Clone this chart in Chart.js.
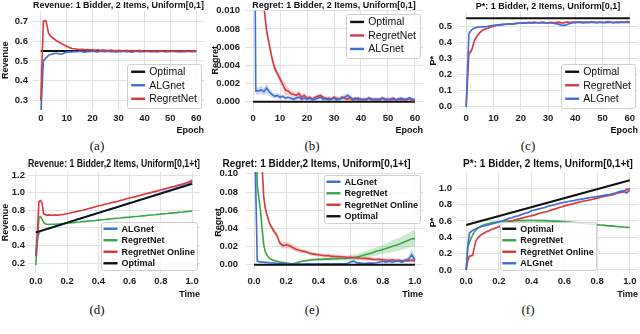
<!DOCTYPE html>
<html>
<head>
<meta charset="UTF-8">
<script src="https://cdn.jsdelivr.net/npm/chart.js"></script>
<title>ALGnet vs RegretNet</title>
<style>
  body { margin: 0; background: #fff; }
  #wrapper { position: relative; width: 640px; height: 334px; overflow: hidden; }
  canvas { position: absolute; }
  .cap { position: absolute; font: 13px "Liberation Serif", "DejaVu Serif", serif; color: #111; transform: translate(-50%, -50%); }
</style>
</head>
<body>
<div id="wrapper">
  <canvas id="revStatic" width="210" height="136" style="left:0;top:0"></canvas>
  <canvas id="regStatic" width="215" height="136" style="left:210px;top:0"></canvas>
  <canvas id="pStatic" width="215" height="136" style="left:425px;top:0"></canvas>
  <canvas id="revOnline" width="210" height="143" style="left:0;top:157px"></canvas>
  <canvas id="regOnline" width="215" height="143" style="left:210px;top:157px"></canvas>
  <canvas id="pOnline" width="215" height="143" style="left:425px;top:157px"></canvas>
  <div class="cap" style="left:97px;top:146px">(a)</div>
  <div class="cap" style="left:312px;top:146px">(b)</div>
  <div class="cap" style="left:528px;top:146px">(c)</div>
  <div class="cap" style="left:97px;top:310px">(d)</div>
  <div class="cap" style="left:312px;top:310px">(e)</div>
  <div class="cap" style="left:528px;top:310px">(f)</div>
</div>

<script>
// ---- top row: Uniform[0,1], by epoch ----
const epochs = [0,1,2,3,4,5,6,7,8,9,10,11,12,13,14,15,16,17,18,19,20,21,22,23,24,25,26,27,28,29,30,
  31,32,33,34,35,36,37,38,39,40,41,42,43,44,45,46,47,48,49,50,51,52,53,54,55,56,57,58,59,60];
const epochTicks = [0,10,20,30,40,50,60];
const optEpochs = [0,60];

const revALG = [0.22,0.50,0.515,0.528,0.534,0.537,0.539,0.536,0.534,0.540,
  0.544,0.546,0.545,0.548,0.546,0.549,0.547,0.544,0.548,0.546,
  0.549,0.547,0.545,0.549,0.548,0.546,0.549,0.547,0.548,0.545,
  0.548,0.547,0.549,0.546,0.548,0.544,0.547,0.549,0.546,0.548,
  0.547,0.549,0.546,0.548,0.547,0.545,0.548,0.549,0.546,0.548,
  0.547,0.549,0.546,0.548,0.545,0.548,0.547,0.549,0.546,0.548,0.547];
const revALGSpread = [0,0.010,0.006,0.004,0.003,0.003,0.003,0.003,0.003,0.003,
  0.003,0.002,0.002,0.003,0.002,0.002,0.003,0.002,0.002,0.002,
  0.003,0.002,0.002,0.002,0.003,0.002,0.002,0.003,0.002,0.002,
  0.002,0.003,0.002,0.002,0.003,0.002,0.002,0.002,0.003,0.002,
  0.002,0.003,0.002,0.002,0.002,0.003,0.002,0.002,0.003,0.002,
  0.002,0.002,0.003,0.002,0.002,0.003,0.002,0.002,0.002,0.003,0.002];
const revRegret = [0.30,0.700,0.702,0.640,0.622,0.612,0.602,0.594,0.588,0.580,
  0.574,0.568,0.563,0.561,0.559,0.557,0.558,0.556,0.557,0.555,
  0.556,0.554,0.556,0.553,0.555,0.554,0.552,0.555,0.553,0.551,
  0.554,0.552,0.550,0.553,0.551,0.549,0.552,0.550,0.553,0.551,
  0.549,0.552,0.550,0.548,0.551,0.549,0.552,0.550,0.548,0.551,
  0.549,0.552,0.550,0.548,0.551,0.549,0.551,0.548,0.550,0.552,0.549];
const revRegretSpread = [0,0.008,0.008,0.006,0.006,0.006,0.005,0.005,0.005,0.004,
  0.004,0.004,0.003,0.003,0.003,0.003,0.003,0.003,0.003,0.003,
  0.003,0.003,0.003,0.003,0.003,0.003,0.003,0.003,0.003,0.003,
  0.003,0.003,0.003,0.003,0.003,0.003,0.003,0.003,0.003,0.003,
  0.003,0.003,0.003,0.003,0.003,0.003,0.003,0.003,0.003,0.003,
  0.003,0.003,0.003,0.003,0.003,0.003,0.003,0.003,0.003,0.003,0.003];
const revOptimal = [0.55,0.55];

const regALG = [0.050,0.0012,0.0012,0.0013,0.0011,0.0015,0.0011,0.0008,0.0006,0.0007,
  0.0005,0.0006,0.0004,0.0005,0.0004,0.0003,0.0004,0.0005,0.0003,0.0004,
  0.0003,0.0004,0.0002,0.0003,0.0004,0.0005,0.0003,0.0004,0.0002,0.0003,
  0.0004,0.0002,0.0003,0.0004,0.0005,0.0007,0.0005,0.0003,0.0004,0.0002,
  0.0003,0.0002,0.0003,0.0004,0.0002,0.0003,0.0002,0.0003,0.0004,0.0002,
  0.0003,0.0002,0.0003,0.0002,0.0003,0.0004,0.0002,0.0003,0.0004,0.0003,0.0001];
const regALGSpread = [0,0.0004,0.0004,0.0005,0.0004,0.0005,0.0004,0.0003,0.0003,0.0003,
  0.0003,0.0002,0.0002,0.0002,0.0002,0.0002,0.0002,0.0002,0.0002,0.0002,
  0.0002,0.0002,0.0002,0.0002,0.0002,0.0002,0.0002,0.0002,0.0002,0.0002,
  0.0002,0.0002,0.0002,0.0002,0.0003,0.0003,0.0003,0.0002,0.0002,0.0002,
  0.0002,0.0002,0.0002,0.0002,0.0002,0.0002,0.0002,0.0002,0.0002,0.0002,
  0.0002,0.0002,0.0002,0.0002,0.0002,0.0002,0.0002,0.0002,0.0002,0.0002,0.0002];
const regRegret = [0.060,0.045,0.030,0.018,0.0105,0.0078,0.0063,0.0048,0.0037,0.0031,
  0.0025,0.0019,0.0013,0.0012,0.0009,0.0008,0.0007,0.0009,0.0005,0.0007,
  0.0004,0.0005,0.0003,0.0005,0.0006,0.0007,0.0005,0.0003,0.0004,0.0003,
  0.0005,0.0004,0.0003,0.0005,0.0004,0.0003,0.0004,0.0002,0.0003,0.0004,
  0.0002,0.0003,0.0002,0.0004,0.0003,0.0002,0.0003,0.0002,0.0004,0.0003,
  0.0002,0.0003,0.0004,0.0002,0.0003,0.0002,0.0003,0.0002,0.0004,0.0001,0.0003];
const regRegretSpread = [0,0.002,0.002,0.001,0.0008,0.0006,0.0005,0.0005,0.0004,0.0004,
  0.0004,0.0005,0.0007,0.0004,0.0003,0.0003,0.0003,0.0004,0.0003,0.0003,
  0.0002,0.0002,0.0002,0.0002,0.0002,0.0002,0.0002,0.0002,0.0002,0.0002,
  0.0002,0.0002,0.0002,0.0002,0.0002,0.0002,0.0002,0.0002,0.0002,0.0002,
  0.0002,0.0002,0.0002,0.0002,0.0002,0.0002,0.0002,0.0002,0.0002,0.0002,
  0.0002,0.0002,0.0002,0.0002,0.0002,0.0002,0.0002,0.0002,0.0002,0.0002,0.0002];
const regOptimal = [0,0];

const pALG = [0.0,0.455,0.478,0.488,0.493,0.495,0.496,0.497,0.499,0.502,
  0.505,0.507,0.508,0.510,0.511,0.512,0.513,0.515,0.516,0.517,
  0.518,0.519,0.520,0.520,0.521,0.520,0.521,0.522,0.521,0.520,
  0.521,0.520,0.518,0.516,0.512,0.506,0.505,0.510,0.517,0.522,
  0.525,0.524,0.525,0.524,0.523,0.524,0.525,0.524,0.523,0.524,
  0.523,0.522,0.523,0.524,0.523,0.522,0.523,0.524,0.523,0.525,0.521];
const pALGSpread = [0,0.010,0.006,0.005,0.004,0.004,0.004,0.004,0.004,0.004,
  0.004,0.004,0.004,0.004,0.004,0.004,0.004,0.004,0.004,0.004,
  0.004,0.004,0.004,0.004,0.004,0.004,0.004,0.004,0.004,0.004,
  0.004,0.005,0.006,0.008,0.010,0.010,0.009,0.007,0.005,0.004,
  0.004,0.004,0.004,0.004,0.004,0.004,0.004,0.004,0.004,0.004,
  0.004,0.004,0.004,0.004,0.004,0.004,0.004,0.004,0.004,0.004,0.005];
const pRegret = [0.0,0.330,0.350,0.410,0.440,0.460,0.475,0.482,0.488,0.495,
  0.500,0.505,0.508,0.510,0.512,0.513,0.515,0.512,0.517,0.520,
  0.518,0.522,0.520,0.524,0.521,0.526,0.522,0.520,0.525,0.522,
  0.520,0.524,0.521,0.523,0.525,0.520,0.522,0.526,0.523,0.525,
  0.522,0.526,0.524,0.521,0.525,0.523,0.527,0.524,0.522,0.526,
  0.523,0.525,0.528,0.524,0.522,0.526,0.524,0.527,0.525,0.529,0.526];
const pRegretSpread = [0,0.020,0.015,0.012,0.010,0.008,0.007,0.007,0.006,0.006,
  0.006,0.006,0.006,0.006,0.006,0.006,0.006,0.006,0.006,0.006,
  0.006,0.006,0.006,0.006,0.006,0.006,0.006,0.006,0.006,0.006,
  0.006,0.006,0.006,0.006,0.006,0.006,0.006,0.006,0.006,0.006,
  0.006,0.006,0.006,0.006,0.006,0.006,0.006,0.006,0.006,0.006,
  0.006,0.006,0.006,0.006,0.006,0.006,0.006,0.006,0.006,0.006,0.006];
const pOptimal = [0.55,0.55];

// ---- bottom row: Uniform[0,1+t], by time ----
const times = [0,0.01,0.02,0.03,0.04,0.05,0.06,0.07,0.08,0.09,0.10,
  0.12,0.14,0.16,0.18,0.20,0.22,0.24,0.26,0.28,0.30,0.32,0.34,0.36,0.38,0.40,0.42,0.44,0.46,0.48,0.50,
  0.52,0.54,0.56,0.58,0.60,0.62,0.64,0.66,0.68,0.70,0.72,0.74,0.76,0.78,0.80,0.82,0.84,0.86,0.88,0.90,
  0.92,0.94,0.96,0.98,1.00];
const timeTicks = [0,0.2,0.4,0.6,0.8,1.0];
const optTimes = [0,1];

const revOnALG = [0.30,0.48,0.545,0.56,0.57,0.575,0.58,0.585,0.59,0.595,0.60,
  0.612,0.622,0.635,0.645,0.66,0.673,0.683,0.695,0.706,0.718,0.728,0.74,0.75,0.762,0.772,0.783,0.795,0.805,0.818,0.827,
  0.838,0.85,0.862,0.873,0.884,0.895,0.905,0.918,0.928,0.94,0.952,0.96,0.975,0.985,0.995,1.01,1.02,1.03,1.042,1.055,
  1.065,1.078,1.09,1.10,1.125];
const revOnRegret = [0.18,0.45,0.72,0.73,0.70,0.665,0.648,0.642,0.640,0.641,0.642,
  0.643,0.645,0.647,0.650,0.654,0.658,0.661,0.665,0.668,0.672,0.675,0.679,0.682,0.685,0.689,0.693,0.696,0.700,0.703,0.707,
  0.710,0.713,0.717,0.720,0.723,0.727,0.730,0.733,0.737,0.740,0.744,0.747,0.750,0.754,0.757,0.761,0.764,0.768,0.771,0.774,
  0.778,0.781,0.785,0.789,0.792];
const revOnOnline = [0.28,0.55,0.90,0.91,0.88,0.76,0.752,0.745,0.748,0.746,0.744,
  0.747,0.745,0.750,0.755,0.762,0.770,0.778,0.785,0.795,0.800,0.810,0.820,0.830,0.840,0.850,0.858,0.868,0.875,0.885,0.893,
  0.900,0.912,0.920,0.930,0.940,0.948,0.955,0.965,0.975,0.985,0.995,1.003,1.012,1.020,1.030,1.040,1.050,1.060,1.068,1.078,
  1.088,1.098,1.110,1.120,1.140];
const revOnOnlineSpread = [0,0.02,0.01,0.01,0.01,0.01,0.006,0.005,0.005,0.005,0.005,
  0.005,0.005,0.005,0.005,0.005,0.005,0.005,0.005,0.005,0.005,0.005,0.005,0.005,0.005,0.005,0.005,0.005,0.005,0.005,0.005,
  0.005,0.005,0.005,0.005,0.006,0.006,0.006,0.006,0.006,0.007,0.007,0.007,0.007,0.008,0.008,0.008,0.009,0.009,0.010,0.010,
  0.011,0.012,0.013,0.015,0.016];
const revOnOptimal = [0.55,1.10];

const regOnALG = [0.25,0.09,0.004,0.0035,0.0032,0.003,0.0028,0.0027,0.0025,0.0024,0.0022,
  0.002,0.0017,0.0015,0.0012,0.001,0.0008,0.0008,0.0007,0.0008,0.0009,0.0008,0.001,0.0009,0.0008,0.001,0.0009,0.0011,0.001,0.0009,0.0011,
  0.001,0.0012,0.0011,0.0013,0.003,0.004,0.002,0.0018,0.0015,0.0017,0.002,0.0018,0.0022,0.003,0.004,0.003,0.004,0.003,0.004,0.004,
  0.003,0.005,0.006,0.011,0.005];
const regOnALGSpread = [0,0.002,0.001,0.001,0.001,0.001,0.001,0.001,0.001,0.001,0.001,
  0.0008,0.0008,0.0008,0.0008,0.0008,0.0008,0.0008,0.0008,0.0008,0.0008,0.0008,0.0008,0.0008,0.0008,0.0008,0.0008,0.0008,0.0008,0.0008,0.0008,
  0.0008,0.0008,0.0008,0.001,0.0015,0.0015,0.001,0.001,0.001,0.001,0.001,0.001,0.001,0.0015,0.0015,0.0015,0.0015,0.0015,0.0015,0.0015,
  0.0015,0.002,0.003,0.007,0.002];
const regOnRegret = [0.30,0.20,0.088,0.073,0.060,0.040,0.022,0.014,0.011,0.008,0.0065,
  0.005,0.004,0.003,0.0025,0.002,0.0015,0.0012,0.002,0.003,0.004,0.0045,0.005,0.0055,0.0058,0.006,0.006,0.0062,0.0063,0.0065,0.0066,
  0.0068,0.007,0.007,0.0072,0.0075,0.008,0.0085,0.0095,0.0105,0.0115,0.0125,0.0135,0.0148,0.0158,0.0168,0.018,0.019,0.0205,0.0215,0.0225,
  0.024,0.0255,0.027,0.0285,0.029];
const regOnRegretSpread = [0,0.004,0.003,0.003,0.003,0.002,0.002,0.001,0.001,0.001,0.001,
  0.001,0.001,0.001,0.001,0.001,0.001,0.001,0.001,0.001,0.001,0.0012,0.0013,0.0014,0.0015,0.0016,0.0017,0.0018,0.0019,0.002,0.002,
  0.0022,0.0024,0.0026,0.0028,0.003,0.0032,0.0034,0.0036,0.0038,0.004,0.0042,0.0044,0.0046,0.0048,0.005,0.0055,0.006,0.0065,0.0068,0.007,
  0.0074,0.0078,0.0082,0.0086,0.009];
const regOnOnline = [0.35,0.30,0.25,0.20,0.15,0.11,0.075,0.062,0.055,0.049,0.044,
  0.038,0.033,0.024,0.021,0.022,0.021,0.019,0.017,0.016,0.015,0.0145,0.013,0.012,0.0115,0.011,0.0105,0.010,0.0102,0.0095,0.0092,
  0.009,0.0088,0.0085,0.008,0.0082,0.0078,0.0075,0.0072,0.007,0.0068,0.0065,0.006,0.0058,0.006,0.0055,0.0052,0.005,0.0055,0.0048,0.005,
  0.0045,0.0048,0.0045,0.005,0.0045];
const regOnOnlineSpread = [0,0.004,0.004,0.004,0.004,0.004,0.004,0.003,0.003,0.003,0.003,
  0.003,0.003,0.003,0.0035,0.0035,0.003,0.003,0.0025,0.0025,0.002,0.002,0.002,0.002,0.002,0.002,0.002,0.002,0.002,0.002,0.002,
  0.002,0.002,0.002,0.002,0.002,0.002,0.002,0.002,0.002,0.002,0.002,0.002,0.002,0.002,0.002,0.002,0.002,0.002,0.002,0.002,
  0.002,0.002,0.002,0.002,0.002];
const regOnOptimal = [0,0];

const pOnALG = [0.0,0.30,0.45,0.47,0.485,0.495,0.505,0.515,0.52,0.53,0.535,
  0.545,0.555,0.565,0.575,0.59,0.60,0.615,0.63,0.64,0.655,0.665,0.68,0.695,0.705,0.725,0.735,0.745,0.755,0.765,0.78,
  0.79,0.80,0.81,0.82,0.83,0.835,0.845,0.85,0.86,0.865,0.872,0.88,0.887,0.893,0.90,0.905,0.913,0.92,0.925,0.935,
  0.945,0.96,0.968,0.945,0.978];
const pOnALGSpread = [0,0.02,0.01,0.01,0.01,0.01,0.01,0.01,0.01,0.01,0.01,
  0.01,0.01,0.01,0.01,0.01,0.01,0.01,0.01,0.01,0.01,0.01,0.01,0.01,0.01,0.01,0.01,0.01,0.01,0.01,0.01,
  0.01,0.01,0.01,0.01,0.01,0.01,0.01,0.01,0.01,0.01,0.01,0.01,0.01,0.012,0.012,0.012,0.012,0.014,0.014,0.015,
  0.016,0.018,0.02,0.025,0.02];
const pOnRegret = [0.0,0.28,0.34,0.39,0.43,0.47,0.49,0.51,0.525,0.535,0.545,
  0.56,0.57,0.58,0.585,0.59,0.595,0.598,0.60,0.602,0.603,0.604,0.605,0.605,0.606,0.606,0.606,0.605,0.605,0.604,0.602,
  0.60,0.598,0.596,0.594,0.59,0.587,0.583,0.58,0.577,0.573,0.57,0.566,0.562,0.558,0.554,0.55,0.547,0.543,0.54,0.537,
  0.533,0.53,0.526,0.523,0.52];
const pOnRegretSpread = [0,0.02,0.015,0.012,0.01,0.01,0.01,0.01,0.01,0.01,0.01,
  0.01,0.01,0.01,0.01,0.01,0.01,0.01,0.01,0.011,0.011,0.012,0.012,0.012,0.013,0.013,0.013,0.013,0.014,0.014,0.014,
  0.014,0.014,0.014,0.014,0.014,0.014,0.014,0.013,0.013,0.013,0.013,0.013,0.013,0.012,0.012,0.012,0.012,0.012,0.012,0.012,
  0.012,0.012,0.012,0.012,0.012];
const pOnOnline = [0.0,0.12,0.17,0.175,0.18,0.28,0.36,0.39,0.41,0.43,0.44,
  0.465,0.48,0.50,0.515,0.53,0.55,0.575,0.59,0.60,0.615,0.625,0.635,0.645,0.655,0.665,0.675,0.69,0.70,0.71,0.72,
  0.735,0.745,0.76,0.77,0.785,0.795,0.805,0.815,0.825,0.835,0.845,0.85,0.86,0.87,0.88,0.89,0.90,0.91,0.915,0.925,
  0.94,0.95,0.955,0.985,0.995];
const pOnOnlineSpread = [0,0.02,0.02,0.02,0.02,0.02,0.015,0.012,0.01,0.01,0.01,
  0.01,0.01,0.01,0.01,0.01,0.01,0.01,0.01,0.01,0.01,0.01,0.01,0.01,0.01,0.01,0.01,0.01,0.01,0.01,0.01,
  0.01,0.01,0.01,0.01,0.01,0.01,0.01,0.01,0.01,0.01,0.01,0.01,0.01,0.01,0.012,0.012,0.012,0.012,0.014,0.014,
  0.015,0.016,0.018,0.022,0.02];
const pOnOptimal = [0.55,1.10];

// ---- styling ----
Chart.defaults.font.family = '"Liberation Sans", Arial, sans-serif';
Chart.defaults.color = '#222';
const GRID = '#e2e2e2';
const COL = { blue: '#3f6fd6', red: '#d93a3d', green: '#3aa64c', black: '#111111' };
const FADE = { blue: 'rgba(63,111,214,0.25)', red: 'rgba(217,58,61,0.25)', green: 'rgba(58,166,76,0.25)' };

function pts(xs, ys) { return xs.map((x, i) => ({ x: x, y: ys[i] })); }

function line(label, xs, ys, color, order, width) {
  return { label: label, data: pts(xs, ys), borderColor: color, backgroundColor: color,
    borderWidth: width || 1.6, pointRadius: 0, tension: 0, fill: false, order: order };
}

// shaded spread: upper edge, then lower edge filled back up to it
function band(xs, ys, spread, color) {
  return [
    { data: pts(xs, ys.map((v, i) => v + spread[i])), borderWidth: 0, borderColor: 'transparent',
      pointRadius: 0, fill: false, order: 20 },
    { data: pts(xs, ys.map((v, i) => v - spread[i])), borderWidth: 0, borderColor: 'transparent',
      pointRadius: 0, fill: '-1', backgroundColor: color, order: 20 }
  ];
}

// legend drawn inside the plot, like matplotlib's loc=...
const insideLegend = {
  id: 'insideLegend',
  afterDatasetsDraw(chart, args, o) {
    if (!o || !o.loc) return;
    const ctx = chart.ctx, area = chart.chartArea;
    const items = chart.data.datasets.filter(d => d.label);
    ctx.save();
    ctx.font = o.fontCss;
    const tw = Math.max(...items.map(d => ctx.measureText(d.label).width));
    const w = o.pad * 2 + o.lineLen + o.gap + tw;
    const h = o.padY * 2 + items.length * o.rowH;
    let x = area.right - o.margin - w;
    if (o.loc.indexOf('center') >= 0) x = (area.left + area.right - w) / 2;
    const y = o.loc.indexOf('upper') === 0 ? area.top + o.margin : area.bottom - o.margin - h;
    ctx.fillStyle = 'rgba(255,255,255,0.85)';
    ctx.strokeStyle = '#d0d0d0';
    ctx.lineWidth = 1;
    ctx.beginPath();
    ctx.roundRect(Math.round(x) + 0.5, Math.round(y) + 0.5, Math.round(w), Math.round(h), 2);
    ctx.fill();
    ctx.stroke();
    ctx.textBaseline = 'middle';
    items.forEach((d, i) => {
      const cy = y + o.padY + o.rowH * (i + 0.5);
      ctx.strokeStyle = d.borderColor;
      ctx.lineWidth = o.lineW;
      ctx.beginPath();
      ctx.moveTo(x + o.pad, cy);
      ctx.lineTo(x + o.pad + o.lineLen, cy);
      ctx.stroke();
      ctx.fillStyle = '#111';
      ctx.fillText(d.label, x + o.pad + o.lineLen + o.gap, cy + 0.5);
    });
    ctx.restore();
  }
};

function axes(a) {
  const tickFont = { size: 9.5, weight: 'bold' };
  const titleFont = { size: 9, weight: 'bold', lineHeight: 1.2 };
  return {
    x: {
      type: 'linear', min: a.xMin, max: a.xMax,
      afterBuildTicks: s => { s.ticks = a.xTicks.map(v => ({ value: v })); },
      afterFit: s => { s.height = a.xH; },
      grid: { color: GRID, drawTicks: false },
      border: { display: false },
      ticks: { font: tickFont, padding: 2.5, maxRotation: 0, autoSkip: false, color: '#222',
        callback: v => v.toFixed(a.xDec) },
      title: { display: true, text: a.xTitle, align: 'end', font: titleFont, color: '#111',
        padding: { top: a.xTitlePad, bottom: 0 } }
    },
    y: {
      type: 'linear', min: a.yMin, max: a.yMax,
      afterBuildTicks: s => { s.ticks = a.yTicks.map(v => ({ value: v })); },
      afterFit: s => { s.width = a.yW; },
      grid: { color: GRID, drawTicks: false },
      border: { display: false },
      ticks: { font: tickFont, padding: a.yPad, autoSkip: false, color: '#222',
        callback: v => v.toFixed(a.yDec) },
      title: { display: true, text: a.yTitle, font: titleFont, color: '#111',
        padding: { top: a.yTitlePad, bottom: 0 } }
    }
  };
}

function panel(id, title, datasets, ax, legend, padRight, head) {
  return new Chart(document.getElementById(id), {
    type: 'line',
    data: { datasets: datasets },
    options: {
      responsive: false,
      animation: false,
      layout: { padding: { left: 0, right: padRight, top: 0, bottom: 0 } },
      scales: axes(ax),
      plugins: {
        legend: { display: false },
        tooltip: { enabled: false },
        title: { display: true, text: title, fullSize: !!head.full, color: '#111',
          font: { size: head.size, weight: 'bold', lineHeight: 1.1 }, padding: head.pad },
        insideLegend: legend
      }
    },
    plugins: [insideLegend]
  });
}

const topLegend = { fontCss: '10.5px "Liberation Sans"', rowH: 13.5, padY: 1.5, pad: 4, lineLen: 14, gap: 4, margin: 3, lineW: 2.4 };
const botLegend = { fontCss: 'bold 9px "Liberation Sans"', rowH: 11.5, padY: 1, pad: 2, lineLen: 14, gap: 4, margin: 3, lineW: 2.4 };
const topHead = { size: 9, pad: { top: 0, bottom: 0 } };
const botHead = { size: 10, pad: { top: 1.5, bottom: 2.5 } };

// (a)
panel('revStatic', 'Revenue: 1 Bidder, 2 Items, Uniform[0,1]', [
  line('Optimal', optEpochs, revOptimal, COL.black, 5, 2),
  line('ALGnet', epochs, revALG, COL.blue, 2),
  line('RegretNet', epochs, revRegret, COL.red, 1),
  ...band(epochs, revALG, revALGSpread, FADE.blue),
  ...band(epochs, revRegret, revRegretSpread, FADE.red)
], { xMin: -3, xMax: 63, xTicks: epochTicks, xDec: 0, xTitle: 'Epoch', xH: 26, xTitlePad: 1.5,
     yMin: 0.253, yMax: 0.753, yTicks: [0.3, 0.4, 0.5, 0.6, 0.7], yDec: 1, yTitle: 'Revenue', yW: 33, yPad: 5, yTitlePad: 0 },
   Object.assign({ loc: 'lower right' }, topLegend), 6, topHead);

// (b)
panel('regStatic', 'Regret: 1 Bidder, 2 Items, Uniform[0,1]', [
  line('Optimal', optEpochs, regOptimal, COL.black, 5, 2),
  line('RegretNet', epochs, regRegret, COL.red, 2),
  line('ALGnet', epochs, regALG, COL.blue, 1),
  ...band(epochs, regRegret, regRegretSpread, FADE.red),
  ...band(epochs, regALG, regALGSpread, FADE.blue)
], { xMin: -3, xMax: 63, xTicks: epochTicks, xDec: 0, xTitle: 'Epoch', xH: 26, xTitlePad: 1.5,
     yMin: -0.0009, yMax: 0.0100, yTicks: [0, 0.002, 0.004, 0.006, 0.008, 0.010], yDec: 3, yTitle: 'Regret', yW: 35, yPad: 5, yTitlePad: 0 },
   Object.assign({ loc: 'upper right' }, topLegend), 2, topHead);

// (c)
panel('pStatic', 'P*: 1 Bidder, 2 Items, Uniform[0,1]', [
  line('Optimal', optEpochs, pOptimal, COL.black, 5, 2),
  line('RegretNet', epochs, pRegret, COL.red, 2),
  line('ALGnet', epochs, pALG, COL.blue, 1),
  ...band(epochs, pRegret, pRegretSpread, FADE.red),
  ...band(epochs, pALG, pALGSpread, FADE.blue)
], { xMin: -3, xMax: 63, xTicks: epochTicks, xDec: 0, xTitle: 'Epoch', xH: 26, xTitlePad: 1.5,
     yMin: -0.02, yMax: 0.59, yTicks: [0, 0.1, 0.2, 0.3, 0.4, 0.5], yDec: 1, yTitle: 'P*', yW: 33, yPad: 6, yTitlePad: 3 },
   Object.assign({ loc: 'lower right' }, topLegend), 2, topHead);

// (d)
panel('revOnline', 'Revenue: 1 Bidder,2 Items, Uniform[0,1+t]', [
  line('ALGnet', times, revOnALG, COL.blue, 3),
  line('RegretNet', times, revOnRegret, COL.green, 4),
  line('RegretNet Online', times, revOnOnline, COL.red, 2),
  line('Optimal', optTimes, revOnOptimal, COL.black, 1, 2),
  ...band(times, revOnOnline, revOnOnlineSpread, FADE.red)
], { xMin: -0.05, xMax: 1.05, xTicks: timeTicks, xDec: 1, xTitle: 'Time', xH: 27, xTitlePad: 1.6,
     yMin: 0.09, yMax: 1.234, yTicks: [0.2, 0.4, 0.6, 0.8, 1.0, 1.2], yDec: 1, yTitle: 'Revenue', yW: 28, yPad: 3, yTitlePad: 0 },
   Object.assign({ loc: 'lower right' }, botLegend), 10, botHead);

// (e)
panel('regOnline', 'Regret: 1 Bidder,2 Items, Uniform[0,1+t]', [
  line('ALGnet', times, regOnALG, COL.blue, 2),
  line('RegretNet', times, regOnRegret, COL.green, 4),
  line('RegretNet Online', times, regOnOnline, COL.red, 3),
  line('Optimal', optTimes, regOnOptimal, COL.black, 1, 2),
  ...band(times, regOnALG, regOnALGSpread, FADE.blue),
  ...band(times, regOnRegret, regOnRegretSpread, FADE.green),
  ...band(times, regOnOnline, regOnOnlineSpread, FADE.red)
], { xMin: -0.05, xMax: 1.05, xTicks: timeTicks, xDec: 1, xTitle: 'Time', xH: 27, xTitlePad: 1.6,
     yMin: -0.009, yMax: 0.102, yTicks: [0, 0.02, 0.04, 0.06, 0.08, 0.10], yDec: 2, yTitle: 'Regret', yW: 36, yPad: 8, yTitlePad: 3 },
   Object.assign({ loc: 'upper right' }, botLegend), 2, Object.assign({ full: true }, botHead));

// (f)
panel('pOnline', 'P*: 1 Bidder, 2 Items, Uniform[0,1+t]', [
  line('Optimal', optTimes, pOnOptimal, COL.black, 1, 2),
  line('RegretNet', times, pOnRegret, COL.green, 4),
  line('RegretNet Online', times, pOnOnline, COL.red, 3),
  line('ALGnet', times, pOnALG, COL.blue, 2),
  ...band(times, pOnRegret, pOnRegretSpread, FADE.green),
  ...band(times, pOnOnline, pOnOnlineSpread, FADE.red),
  ...band(times, pOnALG, pOnALGSpread, FADE.blue)
], { xMin: -0.05, xMax: 1.05, xTicks: timeTicks, xDec: 1, xTitle: 'Time', xH: 27, xTitlePad: 1.6,
     yMin: -0.037, yMax: 1.2, yTicks: [0, 0.2, 0.4, 0.6, 0.8, 1.0], yDec: 1, yTitle: 'P*', yW: 33, yPad: 6, yTitlePad: 3 },
   Object.assign({ loc: 'lower center' }, botLegend), 2, botHead);
</script>
</body>
</html>
